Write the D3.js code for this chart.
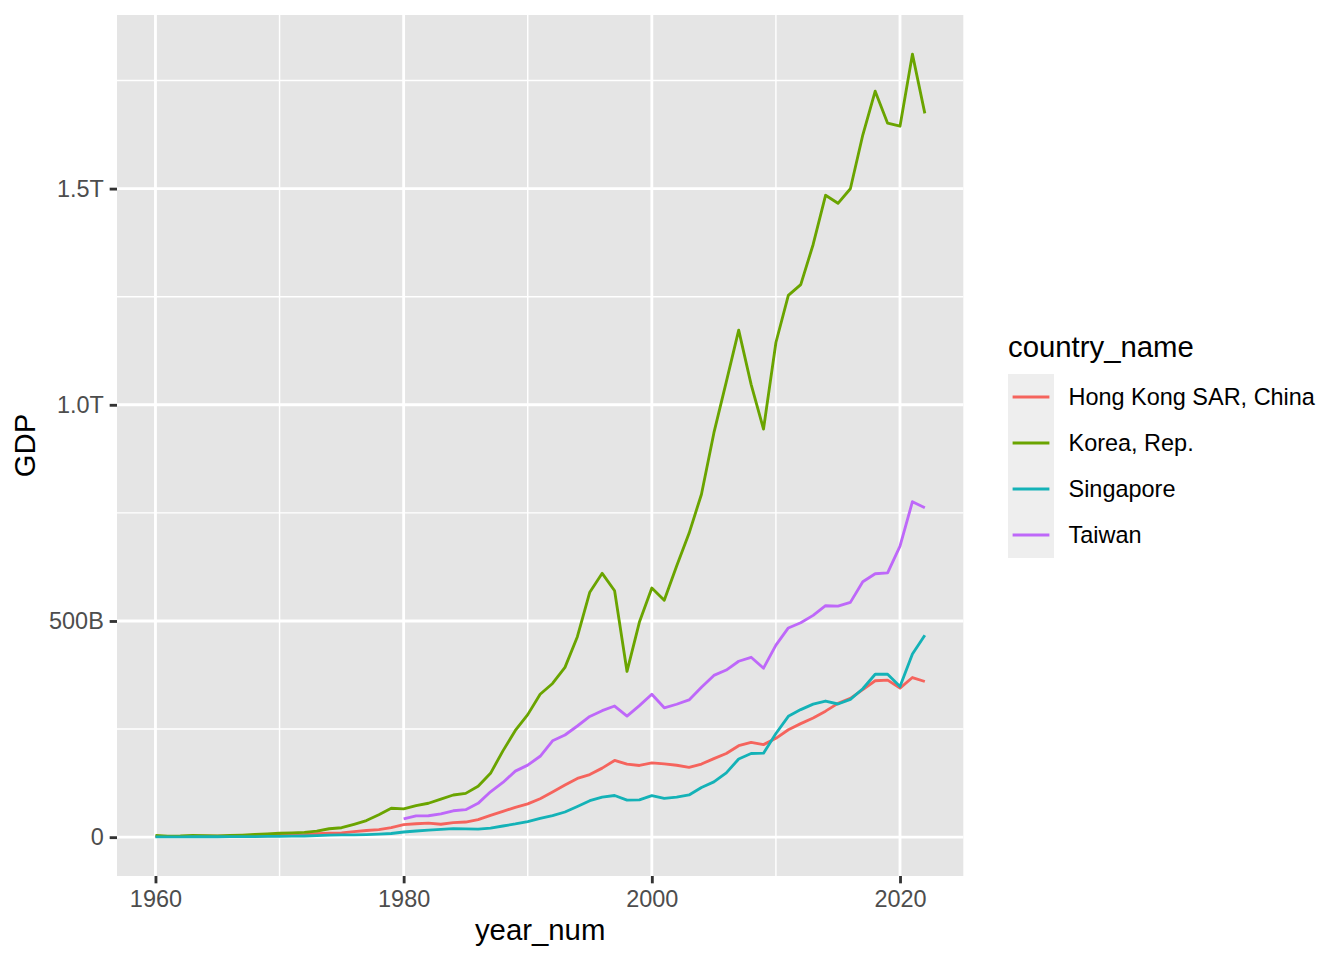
<!DOCTYPE html>
<html>
<head>
<meta charset="utf-8">
<script src="https://cdn.jsdelivr.net/npm/d3@7"></script>
<style>
  html, body { margin: 0; padding: 0; background: #ffffff; }
  svg { display: block; font-family: "Liberation Sans", Arial, Helvetica, sans-serif; }
</style>
</head>
<body>
<svg id="chart" width="1344" height="960"></svg>
<script>
// ---- Data (GDP in billions of current US$) ----
const countries = ["Hong Kong SAR, China", "Korea, Rep.", "Singapore", "Taiwan"];
const colors = ["#F5645D", "#6AA400", "#14B2B7", "#BE68F9"];

const yearsFull = d3.range(1960, 2023);   // 1960..2022
const yearsTaiwan = d3.range(1980, 2023); // 1980..2022

const hongKong = [1.32, 1.41, 1.61, 1.89, 2.07, 2.38, 2.49, 2.69, 2.71, 3.19,
  3.80, 4.48, 5.69, 8.03, 9.25, 10.0, 12.9, 15.4, 17.6, 22.0,
  28.9, 31.0, 32.5, 29.9, 33.5, 35.0, 40.6, 50.6, 59.7, 68.8,
  76.9, 88.9, 104.3, 120.4, 135.8, 144.7, 159.7, 177.4, 168.9, 165.8,
  171.7, 169.4, 166.3, 161.4, 169.1, 181.6, 193.5, 211.6, 219.3, 214.0,
  228.6, 248.5, 262.6, 275.7, 291.5, 309.4, 320.9, 341.3, 361.7, 363.1,
  344.9, 369.2, 360.0];

const korea = [3.96, 2.42, 2.81, 3.93, 3.48, 3.13, 3.91, 4.74, 6.12, 7.68,
  9.00, 9.95, 10.9, 13.9, 19.5, 21.8, 29.8, 38.4, 51.8, 66.8,
  65.4, 72.9, 78.4, 87.9, 97.5, 101.3, 117.6, 147.6, 199.6, 246.9,
  283.4, 330.6, 355.5, 392.7, 463.6, 566.6, 610.2, 569.8, 383.3, 497.5,
  576.2, 547.7, 627.2, 702.7, 793.2, 934.9, 1053.2, 1172.6, 1047.3, 943.9,
  1144.1, 1253.2, 1278.0, 1370.8, 1484.5, 1466.0, 1499.7, 1623.9, 1725.4, 1651.4,
  1644.3, 1811.0, 1673.9];

const singapore = [0.70, 0.76, 0.82, 0.92, 0.89, 0.97, 1.09, 1.24, 1.43, 1.68,
  1.92, 2.26, 2.72, 3.69, 4.67, 5.22, 5.35, 6.04, 7.07, 8.51,
  11.9, 14.2, 16.1, 18.0, 19.7, 19.0, 18.7, 21.1, 25.8, 30.6,
  36.1, 43.3, 49.9, 58.2, 70.9, 84.3, 92.5, 96.3, 85.7, 86.3,
  96.1, 89.8, 92.5, 97.6, 115.0, 127.8, 148.6, 180.9, 193.6, 194.2,
  239.8, 279.4, 295.1, 307.6, 314.9, 308.0, 318.8, 343.3, 376.9, 376.8,
  348.4, 423.8, 466.8];

const taiwan = [42.3, 49.2, 49.6, 53.7, 61.0, 63.6, 78.2, 104.9, 126.5, 152.7,
  166.6, 187.1, 222.9, 236.3, 257.1, 279.1, 292.5, 303.3, 279.9, 304.2,
  330.7, 299.3, 307.4, 317.4, 346.9, 374.1, 386.5, 406.9, 416.0, 390.8,
  444.3, 483.9, 495.8, 512.9, 535.3, 534.5, 543.0, 590.8, 609.2, 611.3,
  673.2, 775.8, 761.7];

const xTicks = [1960, 1980, 2000, 2020];
const xMinor = [1970, 1990, 2010];
const yTicks = [0, 500, 1000, 1500];
const yTickLabels = ["0", "500B", "1.0T", "1.5T"];
const yMinor = [250, 750, 1250, 1750];

// ---- Build series ----
const series = [
  { name: countries[0], color: colors[0], values: yearsFull.map((y, i) => ({ year: y, gdp: hongKong[i] })) },
  { name: countries[1], color: colors[1], values: yearsFull.map((y, i) => ({ year: y, gdp: korea[i] })) },
  { name: countries[2], color: colors[2], values: yearsFull.map((y, i) => ({ year: y, gdp: singapore[i] })) },
  { name: countries[3], color: colors[3], values: yearsTaiwan.map((y, i) => ({ year: y, gdp: taiwan[i] })) }
];

// ---- Layout ----
const panel = { left: 117, top: 15, right: 963.3, bottom: 876 };
const PT = 2.667; // px per pt
const majorW = 0.5 * 2.845 * 2; // ~2.84px
const minorW = majorW / 2;

const allVals = series.flatMap(s => s.values);
const xExt = d3.extent(allVals, d => d.year);
const yExt = d3.extent(allVals, d => d.gdp);
const xPad = (xExt[1] - xExt[0]) * 0.05;
const yPad = (yExt[1] - yExt[0]) * 0.05;

const x = d3.scaleLinear().domain([xExt[0] - xPad, xExt[1] + xPad]).range([panel.left, panel.right]);
const y = d3.scaleLinear().domain([yExt[0] - yPad, yExt[1] + yPad]).range([panel.bottom, panel.top]);

const svg = d3.select("#chart");
svg.append("rect").attr("width", 1344).attr("height", 960).attr("fill", "#ffffff");

// panel background
svg.append("rect")
  .attr("x", panel.left).attr("y", panel.top)
  .attr("width", panel.right - panel.left).attr("height", panel.bottom - panel.top)
  .attr("fill", "#E5E5E5");

const grid = svg.append("g");
// minor grid
grid.selectAll(".ymin").data(yMinor).enter().append("line")
  .attr("x1", panel.left).attr("x2", panel.right)
  .attr("y1", d => y(d)).attr("y2", d => y(d))
  .attr("stroke", "#ffffff").attr("stroke-width", minorW);
grid.selectAll(".xmin").data(xMinor).enter().append("line")
  .attr("y1", panel.top).attr("y2", panel.bottom)
  .attr("x1", d => x(d)).attr("x2", d => x(d))
  .attr("stroke", "#ffffff").attr("stroke-width", minorW);
// major grid
grid.selectAll(".ymaj").data(yTicks).enter().append("line")
  .attr("x1", panel.left).attr("x2", panel.right)
  .attr("y1", d => y(d)).attr("y2", d => y(d))
  .attr("stroke", "#ffffff").attr("stroke-width", majorW);
grid.selectAll(".xmaj").data(xTicks).enter().append("line")
  .attr("y1", panel.top).attr("y2", panel.bottom)
  .attr("x1", d => x(d)).attr("x2", d => x(d))
  .attr("stroke", "#ffffff").attr("stroke-width", majorW);

// lines
svg.append("clipPath").attr("id", "clip").append("rect")
  .attr("x", panel.left).attr("y", panel.top)
  .attr("width", panel.right - panel.left).attr("height", panel.bottom - panel.top);

const lineGen = d3.line().x(d => x(d.year)).y(d => y(d.gdp));
svg.append("g").attr("clip-path", "url(#clip)")
  .selectAll("path").data(series).enter().append("path")
  .attr("d", d => lineGen(d.values))
  .attr("fill", "none")
  .attr("stroke", d => d.color)
  .attr("stroke-width", majorW)
  .attr("stroke-linejoin", "round")
  .attr("stroke-linecap", "butt");

// axes via d3 axis generators
const tickLen = 2.75 * PT;
const tickPad = 2.2 * PT;
const xAxis = d3.axisBottom(x).tickValues(xTicks).tickFormat(d3.format("d"))
  .tickSize(tickLen).tickPadding(tickPad);
const yAxis = d3.axisLeft(y).tickValues(yTicks).tickFormat((d, i) => yTickLabels[i])
  .tickSize(tickLen).tickPadding(tickPad);

const gx = svg.append("g").attr("transform", `translate(0,${panel.bottom})`).call(xAxis);
const gy = svg.append("g").attr("transform", `translate(${panel.left},0)`).call(yAxis);
[gx, gy].forEach(g => {
  g.select(".domain").remove();
  g.selectAll(".tick line").attr("stroke", "#333333").attr("stroke-width", majorW);
  g.selectAll(".tick text")
    .attr("fill", "#4D4D4D")
    .style("font-size", (8.8 * PT) + "px")
    .style("font-family", '"Liberation Sans", Arial, sans-serif');
});
gx.selectAll(".tick text").attr("dy", "0.74em");

// axis titles
svg.append("text")
  .attr("x", (panel.left + panel.right) / 2).attr("y", 940)
  .attr("text-anchor", "middle")
  .style("font-size", (11 * PT) + "px")
  .attr("fill", "#000000")
  .text("year_num");

svg.append("text")
  .attr("transform", `translate(35,${(panel.top + panel.bottom) / 2}) rotate(-90)`)
  .attr("text-anchor", "middle")
  .style("font-size", (11 * PT) + "px")
  .attr("fill", "#000000")
  .text("GDP");

// legend
const legend = svg.append("g");
const keyX = 1008, keyTop = 374, keySize = 46;
legend.append("text")
  .attr("x", keyX).attr("y", 357)
  .style("font-size", (11 * PT) + "px")
  .attr("fill", "#000000")
  .text("country_name");

const items = legend.selectAll(".item").data(series).enter().append("g")
  .attr("transform", (d, i) => `translate(${keyX},${keyTop + i * keySize})`);
items.append("rect")
  .attr("width", keySize).attr("height", keySize)
  .attr("fill", "#EEEEEE");
items.append("line")
  .attr("x1", 4.6).attr("x2", keySize - 4.6)
  .attr("y1", keySize / 2).attr("y2", keySize / 2)
  .attr("stroke", d => d.color).attr("stroke-width", majorW);
items.append("text")
  .attr("x", 60.5).attr("y", keySize / 2)
  .attr("dy", "0.36em")
  .style("font-size", (8.8 * PT) + "px")
  .attr("fill", "#000000")
  .text(d => d.name);
</script>
</body>
</html>
